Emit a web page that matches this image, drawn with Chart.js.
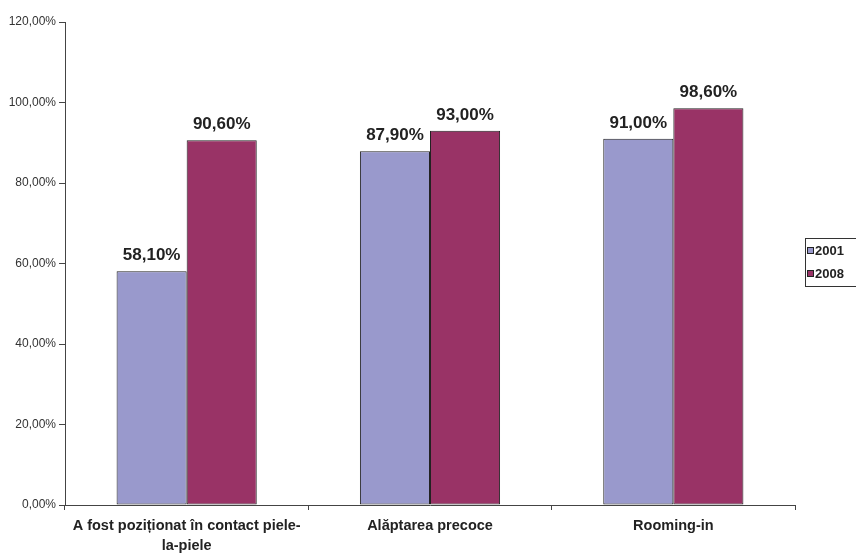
<!DOCTYPE html>
<html>
<head>
<meta charset="utf-8">
<script src="https://cdn.jsdelivr.net/npm/chart.js@4"></script>
<style>
  html, body { margin: 0; padding: 0; background: #fff; }
  #wrap { width: 856px; height: 554px; position: relative; }
</style>
</head>
<body>
<div id="wrap"><canvas id="myChart" width="856" height="554"></canvas></div>
<script>
const categories = [
  ['A fost poziționat în contact piele-', 'la-piele'],
  'Alăptarea precoce',
  'Rooming-in'
];
const seriesNames = ['2001', '2008'];
const values2001 = [58.1, 87.9, 91.0];
const values2008 = [90.6, 93.0, 98.6];
const colors = ['rgb(153,153,204)', 'rgb(153,51,102)'];

const pct = v => v.toFixed(2).replace('.', ',') + '%';

// etichete deasupra barelor
const valueLabels = {
  id: 'valueLabels',
  afterDatasetsDraw(chart) {
    const ctx = chart.ctx;
    ctx.save();
    ctx.font = 'bold 17px Arial, "Liberation Sans", sans-serif';
    ctx.fillStyle = '#222';
    ctx.textAlign = 'center';
    ctx.textBaseline = 'alphabetic';
    chart.data.datasets.forEach((ds, i) => {
      chart.getDatasetMeta(i).data.forEach((bar, j) => {
        ctx.fillText(pct(ds.data[j]), bar.x, bar.y - 11);
      });
    });
    ctx.restore();
  }
};

// legenda cu chenar, ca in Excel
const boxLegend = {
  id: 'boxLegend',
  afterDraw(chart) {
    const ctx = chart.ctx;
    const x = 805, y = 238, w = 60, h = 48;
    ctx.save();
    ctx.strokeStyle = '#333';
    ctx.lineWidth = 1;
    ctx.strokeRect(x + 0.5, y + 0.5, w, h);
    ctx.font = 'bold 13px Arial, "Liberation Sans", sans-serif';
    ctx.textBaseline = 'middle';
    chart.data.datasets.forEach((ds, i) => {
      const cy = y + 12 + i * 23;
      ctx.fillStyle = ds.backgroundColor;
      ctx.fillRect(x + 2, cy - 3, 7, 7);
      ctx.strokeStyle = '#222';
      ctx.strokeRect(x + 2.5, cy - 2.5, 6, 6);
      ctx.fillStyle = '#222';
      ctx.fillText(ds.label, x + 10, cy + 1);
    });
    ctx.restore();
  }
};

const config = {
  type: 'bar',
  data: {
    labels: categories,
    datasets: [
      { label: seriesNames[0], data: values2001, backgroundColor: colors[0] },
      { label: seriesNames[1], data: values2008, backgroundColor: colors[1] }
    ]
  },
  options: {
    responsive: false,
    animation: false,
    layout: { padding: { top: 22, right: 61, left: 0, bottom: 0 } },
    datasets: {
      bar: {
        borderColor: '#222',
        borderWidth: 1,
        borderSkipped: false,
        categoryPercentage: 0.576,
        barPercentage: 1
      }
    },
    plugins: {
      legend: { display: false },
      tooltip: { enabled: false }
    },
    scales: {
      x: {
        offset: true,
        afterFit: s => { s.height = 49; },
        grid: {
          offset: true,
          drawOnChartArea: false,
          tickLength: 5,
          color: '#444'
        },
        border: { color: '#444', width: 1 },
        ticks: {
          color: '#222',
          padding: 6,
          maxRotation: 0,
          font: { family: 'Arial, "Liberation Sans", sans-serif', size: 14.5, weight: 'bold', lineHeight: 1.38 }
        }
      },
      y: {
        min: 0,
        max: 120,
        afterFit: s => { s.width = 65; },
        grid: {
          drawOnChartArea: false,
          tickLength: 6,
          color: '#444'
        },
        border: { color: '#444', width: 1 },
        ticks: {
          stepSize: 20,
          color: '#333',
          padding: 3,
          font: { family: 'Arial, "Liberation Sans", sans-serif', size: 12 },
          callback: v => pct(v)
        }
      }
    }
  },
  plugins: [valueLabels, boxLegend]
};

const myChart = new Chart(document.getElementById('myChart'), config);
</script>
</body>
</html>
